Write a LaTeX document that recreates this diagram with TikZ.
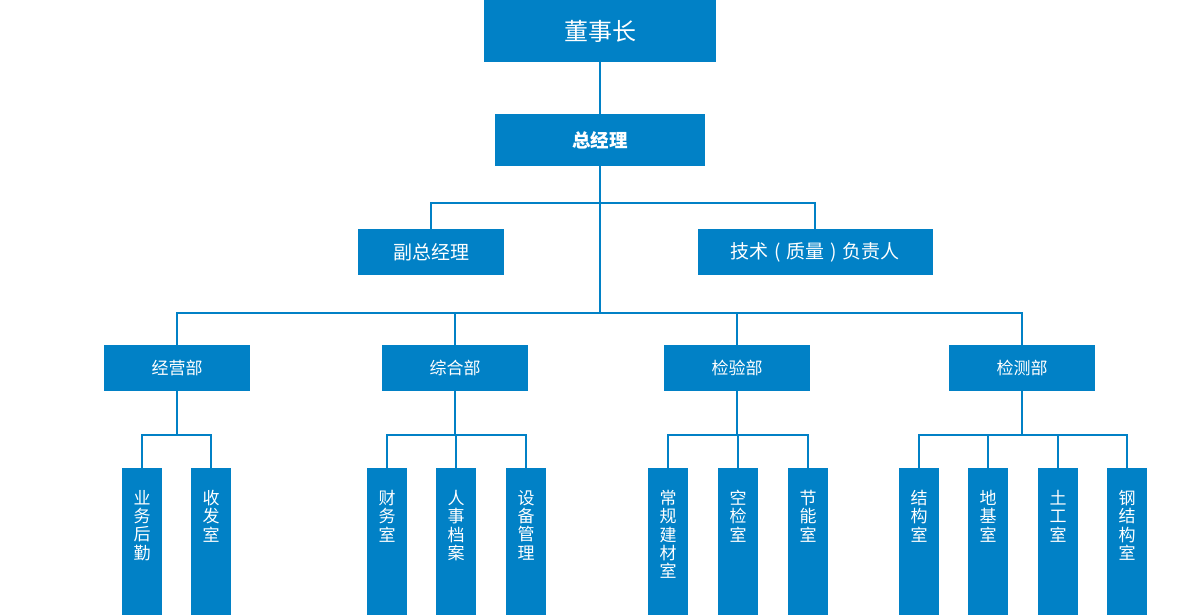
\documentclass[tikz,border=0pt]{standalone}
\usepackage{fontspec}
\newfontfamily\cjkfont{Noto Sans CJK SC}
\usepackage{tikz}
\usetikzlibrary{positioning}
\definecolor{orgblue}{RGB}{1,129,198}
\newcommand\roomtext[1]{\parbox[b][147pt][t]{40pt}{\vspace*{22pt}\centering #1}}

\begin{document}
\begin{tikzpicture}[x=1pt,y=-1pt,
                unit/.style={rectangle,fill=orgblue,text=white,inner sep=0pt,font=\cjkfont\fontsize{17}{18.3}\selectfont},
                dept/.style={unit,minimum width=146pt,minimum height=46pt},
                room/.style={unit,anchor=north,minimum width=40pt},
                link/.style={draw=orgblue,line width=2pt}]
                \useasboundingbox (0,0) rectangle (1200,615);
                \node[unit,minimum width=232pt,minimum height=62pt,font=\cjkfont\fontsize{24}{26}\selectfont] (T_1) at (600,31) {董事长};
                \node[unit,minimum width=210pt,minimum height=52pt,font=\cjkfont\bfseries\fontsize{18.5}{20}\selectfont] (T_2) at (600,140) {总经理};
                \node[dept,font=\cjkfont\fontsize{19}{20}\selectfont] (V_1) at (431,252) {副总经理};
                \node[dept,minimum width=235pt,font=\cjkfont\fontsize{19}{20}\selectfont] (V_2) at (815,252) {技术\hspace{0.3em}(\hspace{0.3em}质量\hspace{0.3em})\hspace{0.3em}负责人};
                \node[dept] (D_1) at (177,368) {经营部};
                \node[dept] (D_2) at (455,368) {综合部};
                \node[dept] (D_3) at (737,368) {检验部};
                \node[dept] (D_4) at (1022,368) {检测部};
                \node[room] (S_1) at (142,468) {\roomtext{业\\务\\后\\勤}};
                \node[room] (S_2) at (211,468) {\roomtext{收\\发\\室}};
                \node[room] (S_3) at (387,468) {\roomtext{财\\务\\室}};
                \node[room] (S_4) at (456,468) {\roomtext{人\\事\\档\\案}};
                \node[room] (S_5) at (526,468) {\roomtext{设\\备\\管\\理}};
                \node[room] (S_6) at (668,468) {\roomtext{常\\规\\建\\材\\室}};
                \node[room] (S_7) at (738,468) {\roomtext{空\\检\\室}};
                \node[room] (S_8) at (808,468) {\roomtext{节\\能\\室}};
                \node[room] (S_9) at (919,468) {\roomtext{结\\构\\室}};
                \node[room] (S_10) at (988,468) {\roomtext{地\\基\\室}};
                \node[room] (S_11) at (1058,468) {\roomtext{土\\工\\室}};
                \node[room] (S_12) at (1127,468) {\roomtext{钢\\结\\构\\室}};
                \coordinate (J_1) at (600,203);
                \coordinate (J_2) at (600,313);
                \coordinate (K_1) at (177,435);
                \coordinate (K_2) at (455,435);
                \coordinate (K_3) at (737,435);
                \coordinate (K_4) at (1022,435);
                \draw[link] (T_1) -- (T_2);
                \draw[link] (T_2) -- (J_2);
                \draw[link] (V_1) |- (J_1) -| (V_2);
                \draw[link] (D_1) |- (J_2) -| (D_4);
                \draw[link] (D_2) -- (D_2 |- J_2);
                \draw[link] (D_3) -- (D_3 |- J_2);
                \draw[link] (D_1) -- (K_1);
                \draw[link] (S_1) |- (K_1) -| (S_2);
                \draw[link] (D_2) -- (K_2);
                \draw[link] (S_3) |- (K_2) -| (S_5);
                \draw[link] (S_4) -- (S_4 |- K_2);
                \draw[link] (D_3) -- (K_3);
                \draw[link] (S_6) |- (K_3) -| (S_8);
                \draw[link] (S_7) -- (S_7 |- K_3);
                \draw[link] (D_4) -- (K_4);
                \draw[link] (S_9) |- (K_4) -| (S_12);
                \draw[link] (S_10) -- (S_10 |- K_4);
                \draw[link] (S_11) -- (S_11 |- K_4);
            \end{tikzpicture}
\end{document}
